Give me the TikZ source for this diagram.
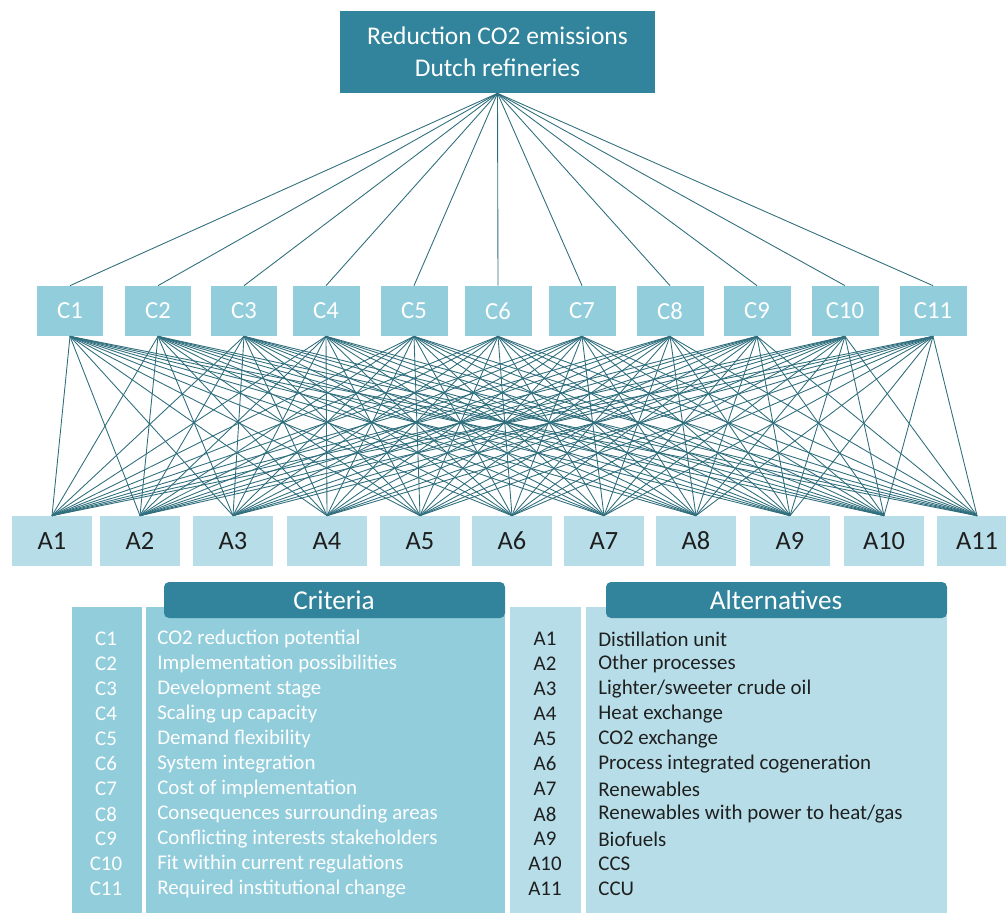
\documentclass[tikz,border=0pt]{standalone}
\usepackage{fontspec}
\setmainfont{Carlito}
\usepackage{tikz}
\definecolor{tealdark}{HTML}{31849B}
\definecolor{tealmid}{HTML}{92CDDC}
\definecolor{teallight}{HTML}{B7DEE8}
\definecolor{linkcol}{HTML}{2F6E7D}
\definecolor{txtdark}{HTML}{1F1F1F}

\begin{document}
\begin{tikzpicture}[x=0.02cm,y=-0.02cm,
    goalbox/.style={fill=tealdark,text=white,minimum width=6.3cm,minimum height=1.64cm,align=center,inner sep=0pt,font=\fontsize{14.5}{18}\selectfont},
    critbox/.style={fill=tealmid,text=white,minimum width=1.34cm,minimum height=1cm,inner sep=0pt,font=\fontsize{14}{17}\selectfont},
    altbox/.style={fill=teallight,text=txtdark,minimum width=1.6cm,minimum height=1cm,inner sep=0pt,font=\fontsize{15}{17}\selectfont},
    link/.style={draw=linkcol,line width=0.5pt},
    tab/.style={fill=tealdark,rounded corners=0.1cm},
    headtext/.style={inner sep=0pt,text=white,font=\fontsize{15.5}{18}\selectfont},
    legtext/.style={inner sep=0pt,font=\fontsize{11.9}{14}\selectfont}]
    \useasboundingbox (0,0) rectangle (1006,913);
    \clip (0,0) rectangle (1006,913);
    \node[goalbox] (goal) at (497.5,52) {Reduction CO2 emissions\\Dutch refineries};
    \foreach \x [count=\i] in {70,158,244,326,414,498,582,670,757,845,933}
        \node[critbox] (c\i) at (\x,311) {C\i};
    \foreach \x [count=\i] in {52,140,233,327,420,512,604,696,790,884,977}
        \node[altbox] (a\i) at (\x,541) {A\i};
    \foreach \i in {1,...,11} {
        \draw[link] (goal.south) -- (c\i.north);
        \foreach \j in {1,...,11}
            \draw[link] (c\i.south) -- (a\j.north);
    }
    \fill[tealmid] (72,607) rectangle (142,913);
    \fill[tealmid] (146,607) rectangle (505,913);
    \fill[tab] (164,582) rectangle (505,618);
    \node[headtext] (crithead) at (334,600) {Criteria};
    \foreach \d [count=\i] in {CO2 reduction potential,Implementation possibilities,Development stage,Scaling up capacity,Demand flexibility,System integration,Cost of implementation,Consequences surrounding areas,Conflicting interests stakeholders,Fit within current regulations,Required institutional change} {
        \node[legtext,text=white] (ccode\i) at (106,639+25*\i-25) {C\i};
        \node[legtext,text=white,anchor=west] (cdesc\i) at (157,639+25*\i-25) {\d};
    }
    \fill[teallight] (510,607) rectangle (581,913);
    \fill[teallight] (586,607) rectangle (947,913);
    \fill[tab] (606,582) rectangle (947,618);
    \node[headtext] (althead) at (776,600) {Alternatives};
    \foreach \d [count=\i] in {Distillation unit,Other processes,Lighter/sweeter crude oil,Heat exchange,CO2 exchange,Process integrated cogeneration,Renewables,Renewables with power to heat/gas,Biofuels,CCS,CCU} {
        \node[legtext,text=txtdark] (acode\i) at (545,639+25*\i-25) {A\i};
        \node[legtext,text=txtdark,anchor=west] (adesc\i) at (598,639+25*\i-25) {\d};
    }
\end{tikzpicture}
\end{document}
